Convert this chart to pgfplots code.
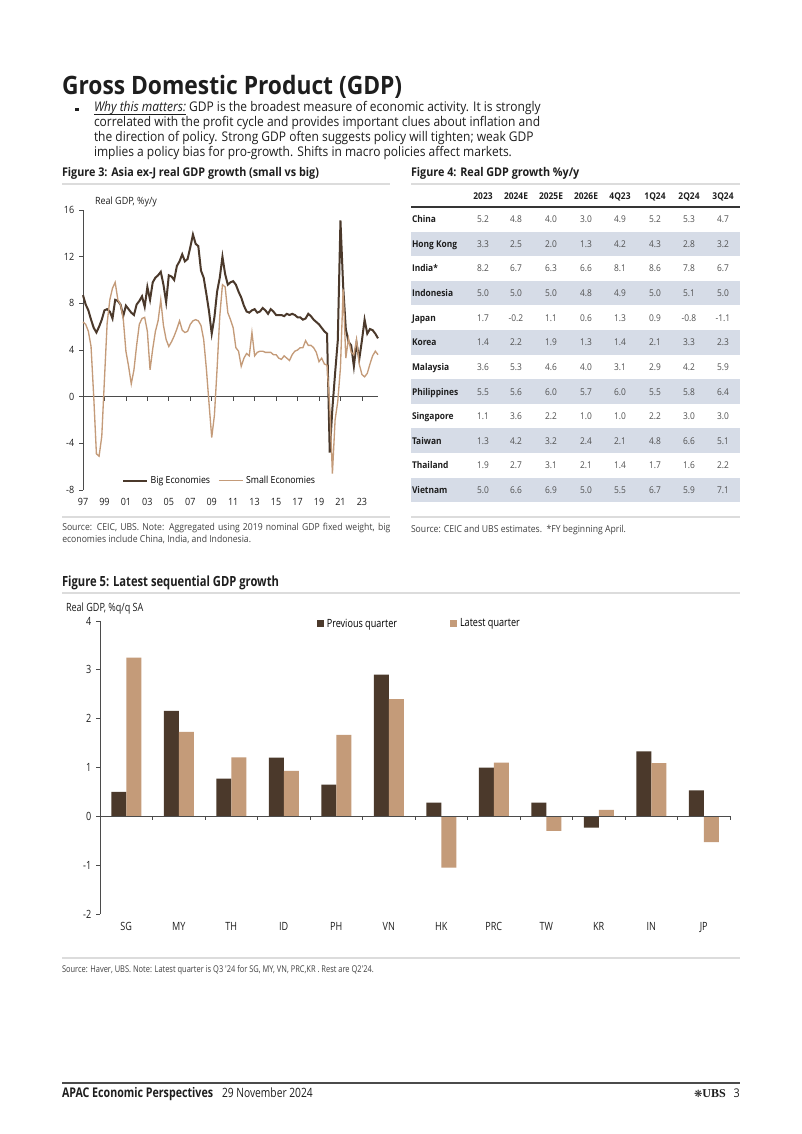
\documentclass[border=0pt]{standalone}
\usepackage{pgfplots}
\pgfplotsset{compat=1.18}
\usepackage{pgfplotstable}
\usepackage{fontspec}
\setmainfont{Open Sans}[FakeStretch=0.9]
\newfontfamily\cond{Open Sans}[FakeStretch=0.8]
\newfontfamily\ubsserif{Liberation Serif}
\newfontfamily\dejavu{DejaVu Sans}

\definecolor{bigc}{HTML}{4B392B}
\definecolor{smallc}{HTML}{C49B79}
\definecolor{band}{HTML}{D6DCE7}
\definecolor{hair}{HTML}{DCDCDC}
\definecolor{ink}{HTML}{1E1E1E}
\definecolor{numgray}{HTML}{505050}

\newcommand\fsz[2]{\fontsize{#1}{#2}\selectfont}

% Figure 3: quarterly y/y growth, q=0 is 1Q97
\pgfplotstableread{
q big small
0 8.7 6.4
1 7.9 6.2
2 7.4 5.6
3 6.6 4.3
4 5.9 0.0
5 5.5 -4.9
6 6.0 -5.1
7 6.6 -3.4
8 7.4 1.5
9 7.5 6.3
10 7.3 8.3
11 6.7 9.3
12 8.3 9.8
13 8.2 8.3
14 7.9 7.9
15 6.9 6.7
16 7.8 3.9
17 7.5 2.6
18 7.2 1.1
19 7.0 2.3
20 7.9 4.4
21 8.2 6.2
22 8.6 6.7
23 7.7 6.8
24 9.4 5.6
25 8.3 2.3
26 9.8 4.1
27 10.2 5.6
28 10.4 6.5
29 10.7 8.3
30 9.6 6.1
31 8.1 4.9
32 10.4 4.3
33 10.3 4.7
34 10.0 5.2
35 11.2 5.8
36 11.6 6.5
37 12.2 5.7
38 11.6 5.5
39 11.8 5.6
40 12.8 6.2
41 13.9 6.5
42 13.1 6.6
43 12.9 6.5
44 10.8 6.1
45 10.2 4.9
46 8.8 2.4
47 7.3 -0.6
48 5.4 -3.5
49 6.8 -1.6
50 9.0 2.4
51 10.2 6.9
52 12.0 9.6
53 10.5 9.4
54 9.6 7.2
55 9.8 6.6
56 9.9 5.9
57 9.6 4.2
58 9.0 3.9
59 8.5 2.6
60 7.8 3.3
61 7.3 3.7
62 7.2 3.5
63 7.4 5.5
64 7.5 3.5
65 7.2 3.8
66 7.3 3.9
67 7.6 3.9
68 7.4 3.8
69 7.1 3.8
70 7.5 3.8
71 7.3 3.6
72 7.0 3.6
73 7.0 3.3
74 7.0 3.2
75 6.9 3.5
76 7.1 3.3
77 7.0 3.1
78 7.1 3.6
79 7.0 3.9
80 6.8 4.0
81 6.8 4.2
82 6.6 4.2
83 6.7 4.8
84 7.1 4.4
85 6.9 4.4
86 6.6 4.2
87 6.4 3.8
88 6.2 3.0
89 5.9 3.3
90 5.6 2.8
91 5.4 2.7
92 -4.8 -0.8
93 -1.0 -6.6
94 2.0 -2.0
95 4.8 -0.4
96 15.1 2.5
97 9.5 9.2
98 5.8 3.3
99 4.7 5.0
100 4.4 3.8
101 2.6 3.6
102 4.6 4.9
103 3.2 2.8
104 4.8 1.9
105 6.6 1.7
106 5.4 2.0
107 5.8 2.8
108 5.7 3.5
109 5.4 3.9
110 5.0 3.6
}\yoy

% Figure 5: latest sequential growth
\pgfplotstableread{
i prev last
0 0.50 3.25
1 2.16 1.73
2 0.77 1.21
3 1.20 0.93
4 0.65 1.67
5 2.90 2.40
6 0.28 -1.05
7 1.00 1.10
8 0.28 -0.30
9 -0.23 0.13
10 1.33 1.09
11 0.53 -0.53
}\qoq

% one row of the Figure 4 table
\newcommand\trow[3]{%
  \node[t,font=\bfseries\fsz{7}{8}] at (412,{222.8+24.6*#1}) {#2};
  \foreach \v [count=\j from 0] in {#3}{%
    \pgfmathsetmacro\cx{{483,516,551,586,620,655,689,723}[\j]}%
    \node[tc,font=\fsz{7}{8},text=numgray] at (\cx,{222.8+24.6*#1}) {\v};}%
}

\begin{document}
\begin{tikzpicture}[x=0.75pt,y=-0.75pt,
  t/.style={inner sep=0pt,outer sep=0pt,anchor=base west,text=ink},
  tc/.style={inner sep=0pt,outer sep=0pt,anchor=base,text=ink}]
\fill[white] (0,0) rectangle (802,1134);
\path[use as bounding box] (0,0) rectangle (802,1134);

% heading and bullet
\node[t,font=\bfseries\fsz{19}{22}] at (62,95) {Gross Domestic Product (GDP)};
\fill[ink] (75,108) rectangle (78.5,111.5);
\node[t,font=\itshape\fsz{10}{11}] (w) at (94,112) {Why this matters:};
\draw[ink,line width=0.5pt] ([yshift=-1.6pt]w.base west) -- ([yshift=-1.6pt]w.base east);
\node[t,font=\fsz{10}{11}] at (w.base east) {\ GDP is the broadest measure of economic activity. It is strongly};
\node[t,font=\fsz{10}{11}] at (94,127) {correlated with the profit cycle and provides important clues about inflation and};
\node[t,font=\fsz{10}{11}] at (94,142) {the direction of policy. Strong GDP often suggests policy will tighten; weak GDP};
\node[t,font=\fsz{10}{11}] at (94,157) {implies a policy bias for pro-growth. Shifts in macro policies affect markets.};

% Figure 3
\node[t,font=\bfseries\fsz{9}{10}] at (62,177) {Figure 3: Asia ex-J real GDP growth (small vs big)};
\draw[hair,line width=0.8pt] (62,184) -- (390,184);
\node[t,font=\fsz{7.5}{8}] at (95,204.5) {Real GDP, \%y/y};

\begin{axis}[
  at={(62.25pt,-367.5pt)}, anchor=south west,
  scale only axis, width=221.25pt, height=210pt,
  xmin=0, xmax=110, ymin=-8, ymax=16,
  axis y line*=left, axis x line*=bottom,
  axis line style={ink!80, line width=0.6pt},
  x axis line style={draw=none},
  xtick={0,8,...,104},
  xticklabels={97,99,01,03,05,07,09,11,13,15,17,19,21,23},
  ytick={-8,-4,...,16},
  yticklabels={-8,-4,0,4,8,12,16},
  xtick style={draw=none},
  ytick style={ink!80, line width=0.6pt},
  tick align=outside, major tick length=3pt,
  tick label style={font=\fsz{7.5}{8}, text=ink},
  clip=false,
  legend columns=2,
  legend style={draw=none, fill=none, at={(0.118,0.033)}, anchor=west,
    font=\fsz{7.3}{8}, /tikz/every even column/.append style={column sep=4pt}},
  legend image code/.code={\draw[#1] (0pt,0pt) -- (18pt,0pt);},
]
\draw[ink!80, line width=0.6pt] (axis cs:0,0) -- (axis cs:110,0);
\pgfplotsinvokeforeach{8,16,...,104}{\draw[ink!80, line width=0.6pt] (axis cs:#1,0) -- ++(0pt,-3pt);}
\addplot[bigc, line width=1.5pt] table[x=q, y=big] {\yoy};
\addlegendentry{Big Economies}
\addplot[smallc, line width=1pt] table[x=q, y=small] {\yoy};
\addlegendentry{Small Economies}
\end{axis}

\draw[hair,line width=0.8pt] (62,517) -- (390,517);
\node[anchor=north west,inner sep=0pt,text=ink!85,text width=246pt,align=justify,font=\fsz{7.2}{9}] at (62,523)
  {Source: CEIC, UBS. Note: Aggregated using 2019 nominal GDP fixed weight, big\linebreak economies include China, India, and Indonesia.};

% Figure 4 table
\node[t,font=\bfseries\fsz{9}{10}] at (411,177) {Figure 4: Real GDP growth \%y/y};
\draw[hair,line width=0.8pt] (411,184) -- (740,184);
\foreach \h [count=\j from 0] in {2023,2024E,2025E,2026E,4Q23,1Q24,2Q24,3Q24}{%
  \pgfmathsetmacro\cx{{483,516,551,586,620,655,689,723}[\j]}%
  \node[tc,font=\bfseries\fsz{7}{8}] at (\cx,199.5) {\h};}
\draw[ink!90,line width=1.5pt] (411,207) -- (740,207);
\foreach \i in {1,3,5,7,9,11}{\fill[band] (411,{219.3+24.6*\i-12.3}) rectangle (740,{219.3+24.6*\i+12.3});}
\trow{0}{China}{5.2,4.8,4.0,3.0,4.9,5.2,5.3,4.7}
\trow{1}{Hong Kong}{3.3,2.5,2.0,1.3,4.2,4.3,2.8,3.2}
\trow{2}{India*}{8.2,6.7,6.3,6.6,8.1,8.6,7.8,6.7}
\trow{3}{Indonesia}{5.0,5.0,5.0,4.8,4.9,5.0,5.1,5.0}
\trow{4}{Japan}{1.7,-0.2,1.1,0.6,1.3,0.9,-0.8,-1.1}
\trow{5}{Korea}{1.4,2.2,1.9,1.3,1.4,2.1,3.3,2.3}
\trow{6}{Malaysia}{3.6,5.3,4.6,4.0,3.1,2.9,4.2,5.9}
\trow{7}{Philippines}{5.5,5.6,6.0,5.7,6.0,5.5,5.8,6.4}
\trow{8}{Singapore}{1.1,3.6,2.2,1.0,1.0,2.2,3.0,3.0}
\trow{9}{Taiwan}{1.3,4.2,3.2,2.4,2.1,4.8,6.6,5.1}
\trow{10}{Thailand}{1.9,2.7,3.1,2.1,1.4,1.7,1.6,2.2}
\trow{11}{Vietnam}{5.0,6.6,6.9,5.0,5.5,6.7,5.9,7.1}
\draw[hair,line width=0.8pt] (411,517) -- (740,517);
\node[t,font=\fsz{7.2}{9},text=ink!85] at (411,532) {Source: CEIC and UBS estimates.\ \ *FY beginning April.};

% Figure 5
\node[t,font=\cond\bfseries\fsz{10.5}{11}] at (62,586) {Figure 5: Latest sequential GDP growth};
\draw[hair,line width=0.8pt] (62,593) -- (740,593);
\node[t,font=\cond\fsz{8.5}{9}] at (66,611.5) {Real GDP, \%q/q SA};

\begin{axis}[
  at={(75pt,-685.5pt)}, anchor=south west,
  scale only axis, width=472.5pt, height=219.75pt,
  xmin=-0.5, xmax=11.5, ymin=-2, ymax=4,
  ybar=0pt, bar width=11.25pt,
  axis y line*=left, axis x line*=bottom,
  axis line style={ink!80, line width=0.6pt},
  x axis line style={draw=none},
  xtick={0,...,11},
  xticklabels={SG,MY,TH,ID,PH,VN,HK,PRC,TW,KR,IN,JP},
  ytick={-2,...,4},
  yticklabels={-2,-1,0,1,2,3,4},
  xtick style={draw=none},
  ytick style={ink!80, line width=0.6pt},
  tick align=outside, major tick length=3pt,
  tick label style={font=\cond\fsz{8.5}{9}, text=ink},
  clip=false,
  legend columns=2,
  legend style={draw=none, fill=none, at={(0.338,0.99)}, anchor=west,
    font=\cond\fsz{8.5}{9}, /tikz/every even column/.append style={column sep=38pt}},
  legend image code/.code={\fill[#1] (0pt,-2.6pt) rectangle (5.2pt,2.6pt);},
]
\addplot[fill=bigc, draw=none] table[x=i, y=prev] {\qoq};
\addlegendentry{Previous quarter}
\addplot[fill=smallc, draw=none] table[x=i, y=last] {\qoq};
\addlegendentry{Latest quarter}
\draw[ink!80, line width=0.6pt] (axis cs:-0.5,0) -- (axis cs:11.5,0);
\pgfplotsinvokeforeach{0.5,1.5,...,11.5}{\draw[ink!80, line width=0.6pt] (axis cs:#1,0) -- ++(0pt,-3pt);}
\end{axis}

\draw[hair,line width=0.8pt] (62,958) -- (740,958);
\node[t,font=\cond\fsz{7}{8},text=ink!85] at (62,972) {Source: Haver, UBS. Note: Latest quarter is Q3 '24 for SG, MY, VN, PRC,KR . Rest are Q2'24.};

% footer
\draw[ink!80,line width=0.8pt] (62,1083) -- (740,1083);
\node[t,font=\cond\bfseries\fsz{10}{11}] at (62,1097) {APAC Economic Perspectives};
\node[t,font=\cond\fsz{9.6}{10}] at (222,1097) {29 November 2024};
\node[inner sep=0pt,anchor=base east,text=ink,font=\fsz{9}{10}] at (726,1097) {{\dejavu\fsz{7.5}{8}❋}{\ubsserif\bfseries UBS}};
\node[inner sep=0pt,anchor=base east,text=ink,font=\fsz{9}{10}] at (740,1097) {3};
\end{tikzpicture}
\end{document}
